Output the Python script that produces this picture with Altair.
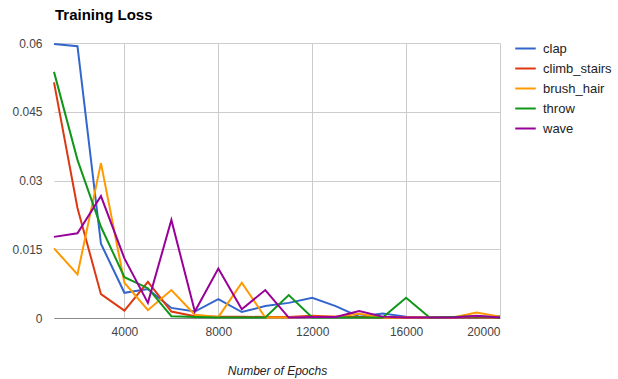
import altair as alt
import pandas as pd

epochs = [1000, 2000, 3000, 4000, 5000, 6000, 7000, 8000, 9000, 10000,
          11000, 12000, 13000, 14000, 15000, 16000, 17000, 18000, 19000, 20000]
series_names = ["clap", "climb_stairs", "brush_hair", "throw", "wave"]
colors = ["#3366cc", "#dc3912", "#ff9900", "#109618", "#990099"]

clap = [0.0598, 0.0593, 0.0162, 0.0055, 0.0063, 0.0022, 0.0014, 0.0041, 0.0013, 0.0026,
        0.0033, 0.0044, 0.0026, 0.0003, 0.0010, 0.0003, 0.0001, 0.0001, 0.0001, 0.0004]
climb_stairs = [0.0514, 0.0240, 0.0052, 0.0016, 0.0079, 0.0014, 0.0004, 0.0003, 0.0003, 0.0002,
                0.0002, 0.0005, 0.0003, 0.0002, 0.0001, 0.0001, 0.0001, 0.0001, 0.0001, 0.0001]
brush_hair = [0.0152, 0.0095, 0.0338, 0.0077, 0.0017, 0.0061, 0.0007, 0.0002, 0.0077, 0.0001,
              0.0001, 0.0003, 0.0003, 0.0009, 0.0001, 0.0001, 0.0001, 0.0001, 0.0012, 0.0003]
throw = [0.0537, 0.0345, 0.0199, 0.0089, 0.0065, 0.0004, 0.0002, 0.0001, 0.0001, 0.0001,
         0.0050, 0.0001, 0.0001, 0.0001, 0.0001, 0.0044, 0.0001, 0.0002, 0.0004, 0.0001]
wave = [0.0177, 0.0185, 0.0266, 0.0130, 0.0033, 0.0214, 0.0014, 0.0108, 0.0019, 0.0061,
        0.0001, 0.0002, 0.0002, 0.0015, 0.0003, 0.0001, 0.0001, 0.0001, 0.0005, 0.0001]

x_ticks = [4000, 8000, 12000, 16000, 20000]
y_ticks = [0, 0.015, 0.03, 0.045, 0.06]

values = [clap, climb_stairs, brush_hair, throw, wave]
rows = []
for i, (name, vals) in enumerate(zip(series_names, values)):
    for e, v in zip(epochs, vals):
        rows.append({"epoch": e, "loss": v, "series": name, "order": i})
df = pd.DataFrame(rows)

FONT = "Liberation Sans"

chart = alt.Chart(df).mark_line(strokeWidth=2).encode(
    x=alt.X("epoch:Q", scale=alt.Scale(domain=[1000, 20000], nice=False),
            axis=alt.Axis(values=x_ticks, format="d", title="Number of Epochs",
                          titleFontStyle="italic", titleFontWeight="normal",
                          titleFontSize=12, titleColor="#222", titlePadding=28,
                          labelPadding=8, ticks=False, domainColor="#888",
                          gridColor="#ccc", labelColor="#444", labelFontSize=12)),
    y=alt.Y("loss:Q", scale=alt.Scale(domain=[0, 0.06], nice=False),
            axis=alt.Axis(values=y_ticks, format=".3~f", title=None, ticks=False,
                          domain=False, gridColor="#ccc", labelColor="#444",
                          labelFontSize=12, labelPadding=12)),
    color=alt.Color("series:N", sort=series_names,
                    scale=alt.Scale(domain=series_names, range=colors),
                    legend=alt.Legend(title=None, orient="none", legendX=460, legendY=-6,
                                      symbolType="stroke", symbolStrokeWidth=2,
                                      symbolSize=420, labelFontSize=13, labelColor="#222",
                                      rowPadding=1, labelOffset=6)),
    order="order:Q",
).properties(
    width=446, height=275,
    autosize=alt.AutoSizeParams(type="none"),
    padding={"left": 54, "top": 43, "right": 118, "bottom": 61},
    title=alt.TitleParams("Training Loss", anchor="start", dx=1, fontSize=15,
                          fontWeight="bold", color="#000", font=FONT, offset=14,
                          frame="group"),
).configure(font=FONT).configure_view(stroke=None).configure_axis(
    labelFont=FONT, titleFont=FONT
).configure_legend(labelFont=FONT)

chart.save("out.html", embed_options={"renderer": "svg", "actions": False})
